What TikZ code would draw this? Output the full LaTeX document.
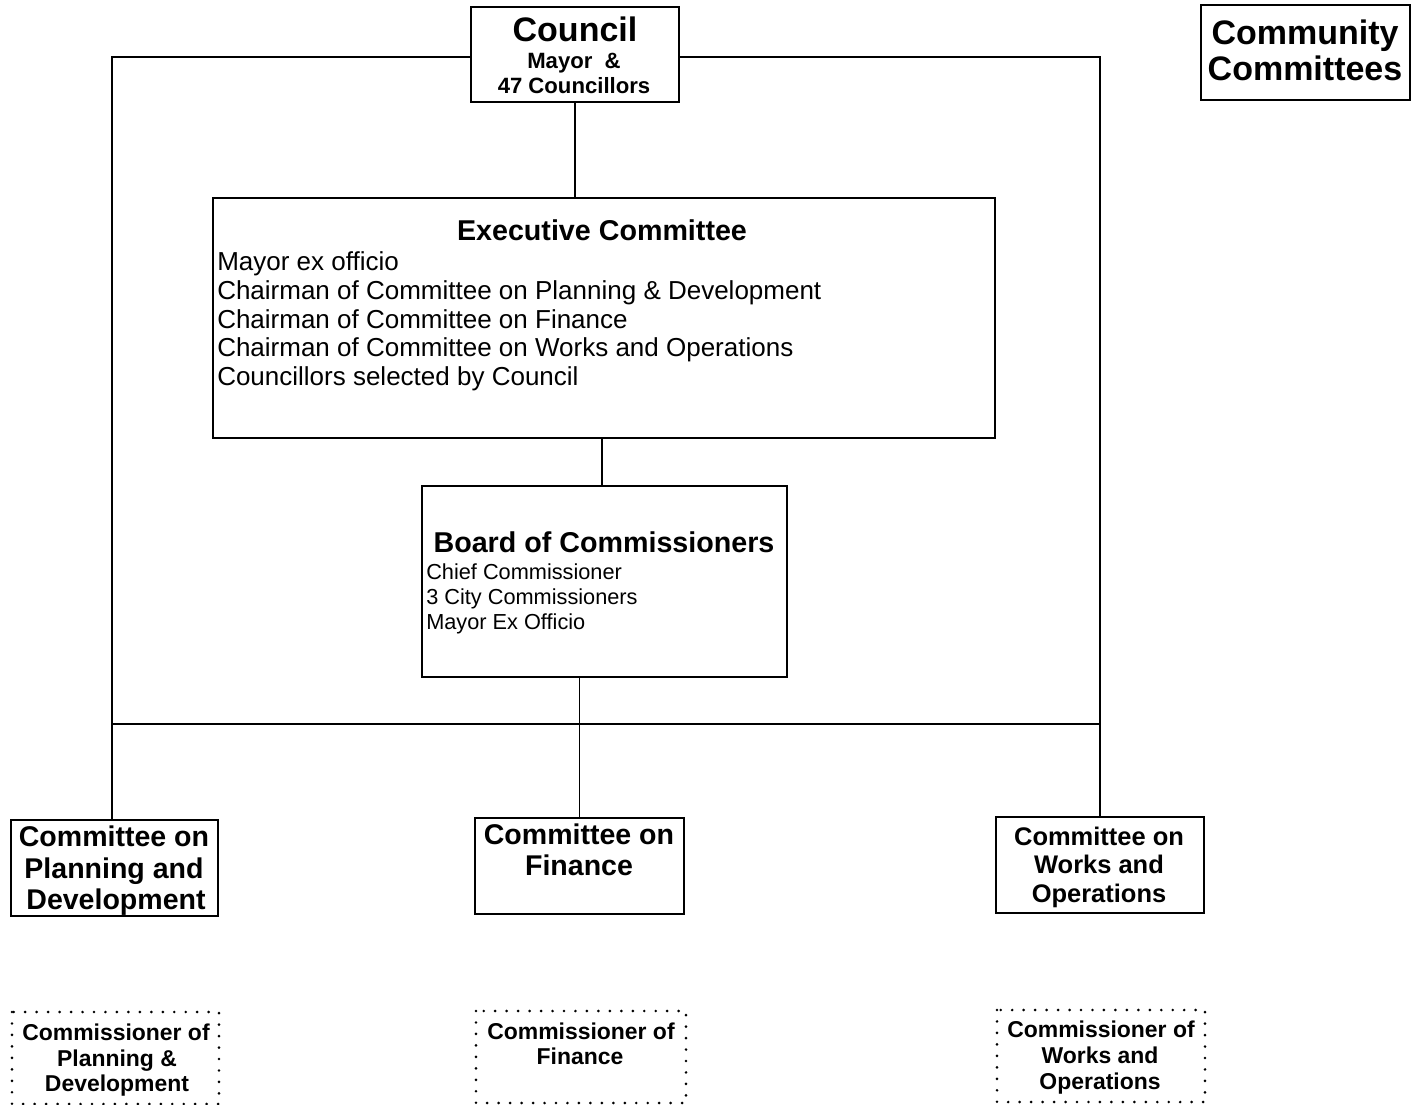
\documentclass[tikz,border=0pt]{standalone}
\usepackage{fontspec}
\setmainfont{Liberation Sans}
\newcommand\fsz[1]{\fontsize{#1}{1.2\dimexpr#1\relax}\selectfont}
\begin{document}
\begin{tikzpicture}[x=0.75pt,y=-0.75pt,
  box/.style={draw,line width=1.6pt,inner sep=0pt,minimum width=#1},
  dotbox/.style={draw,line width=2.2pt,line cap=round,dash pattern=on 0pt off 8.6pt,inner sep=0pt},
  link/.style={line width=1.4pt},
  txt/.style={inner sep=0pt,anchor=base},
  txtl/.style={inner sep=0pt,anchor=base west},
  hd/.style={font=\bfseries\fsz{#1}},
  rg/.style={font=\fsz{#1}}]
\useasboundingbox (0,0) rectangle (1417,1105);
\fill[white] (0,0) rectangle (1417,1105);

% solid boxes
\node[box=208*0.75pt,minimum height=95*0.75pt] (council) at (575,54.5) {};
\node[box=209*0.75pt,minimum height=95*0.75pt] (community) at (1305.5,52.5) {};
\node[box=782*0.75pt,minimum height=240*0.75pt] (exec) at (604,318) {};
\node[box=365*0.75pt,minimum height=191*0.75pt] (board) at (604.5,581.5) {};
\node[box=207*0.75pt,minimum height=96*0.75pt] (plan) at (114.5,868) {};
\node[box=209*0.75pt,minimum height=96*0.75pt] (fin) at (579.5,866) {};
\node[box=208*0.75pt,minimum height=96*0.75pt] (works) at (1100,865) {};

% dotted boxes
\draw[dotbox] (12,1012) rectangle (219,1104);
\draw[dotbox] (476,1011) rectangle (686,1103);
\draw[dotbox] (997,1010) rectangle (1205,1102);
\node[inner sep=0pt,minimum width=207*0.75pt,minimum height=92*0.75pt] (cplan) at (115.5,1058) {};
\node[inner sep=0pt,minimum width=210*0.75pt,minimum height=92*0.75pt] (cfin) at (581,1057) {};
\node[inner sep=0pt,minimum width=208*0.75pt,minimum height=92*0.75pt] (cworks) at (1101,1056) {};

% texts
\node[txt,hd=25.5pt] (t1) at (575,42) {Council};
\node[txt,hd=16.6pt] (t2) at (574,68.5) {Mayor\ \ \&};
\node[txt,hd=16.6pt] (t3) at (574,93.5) {47 Councillors};

\node[txt,hd=25.5pt] (t4) at (1305,45) {Community};
\node[txt,hd=25.5pt] (t5) at (1305,81) {Committees};

\node[txt,hd=21.5pt] (t6) at (602,241) {Executive Committee};
\node[txtl,rg=19.5pt] (t7) at (217,271) {Mayor ex officio};
\node[txtl,rg=19.5pt] (t8) at (217,300) {Chairman of Committee on Planning \& Development};
\node[txtl,rg=19.5pt] (t9) at (217,329) {Chairman of Committee on Finance};
\node[txtl,rg=19.5pt] (t10) at (217,357) {Chairman of Committee on Works and Operations};
\node[txtl,rg=19.5pt] (t11) at (217,386) {Councillors selected by Council};

\node[txt,hd=21.5pt] (t12) at (604,552) {Board of Commissioners};
\node[txtl,rg=16.3pt] (t13) at (426,579) {Chief Commissioner};
\node[txtl,rg=16.3pt] (t14) at (426,604) {3 City Commissioners};
\node[txtl,rg=16.3pt] (t15) at (426,629) {Mayor Ex Officio};

\node[txt,hd=21.4pt] (t16) at (114,846) {Committee on};
\node[txt,hd=21.4pt] (t17) at (114,878) {Planning and};
\node[txt,hd=21.4pt] (t18) at (116,909) {Development};

\node[txt,hd=21.4pt] (t19) at (579,844) {Committee on};
\node[txt,hd=21.4pt] (t20) at (579,875) {Finance};

\node[txt,hd=19.1pt] (t21) at (1099,845) {Committee on};
\node[txt,hd=19.1pt] (t22) at (1099,873) {Works and};
\node[txt,hd=19.1pt] (t23) at (1099,902) {Operations};

\node[txt,hd=17.2pt] (t24) at (116,1040) {Commissioner of};
\node[txt,hd=17.2pt] (t25) at (117,1066) {Planning \&};
\node[txt,hd=17.2pt] (t26) at (117,1091) {Development};

\node[txt,hd=17.2pt] (t27) at (581,1039) {Commissioner of};
\node[txt,hd=17.2pt] (t28) at (580,1064) {Finance};

\node[txt,hd=17.2pt] (t29) at (1101,1037) {Commissioner of};
\node[txt,hd=17.2pt] (t30) at (1100,1063) {Works and};
\node[txt,hd=17.2pt] (t31) at (1100,1089) {Operations};

% connectors
\coordinate (bus) at (0,724);
\coordinate (lcorner) at (112,57);
\draw[link] (council.west |- lcorner) -- (lcorner) -- (lcorner |- plan.north);
\draw[link] (council.east |- lcorner) -| (works.north);
\draw[link] (lcorner |- bus) -- (works.north |- bus);
\draw[link] (council.south) -- (council.south |- exec.north);
\draw[link] (exec.south -| 602,0) -- (board.north -| 602,0);
\draw[link] (fin.north |- board.south) -- (fin.north);
\end{tikzpicture}
\end{document}
